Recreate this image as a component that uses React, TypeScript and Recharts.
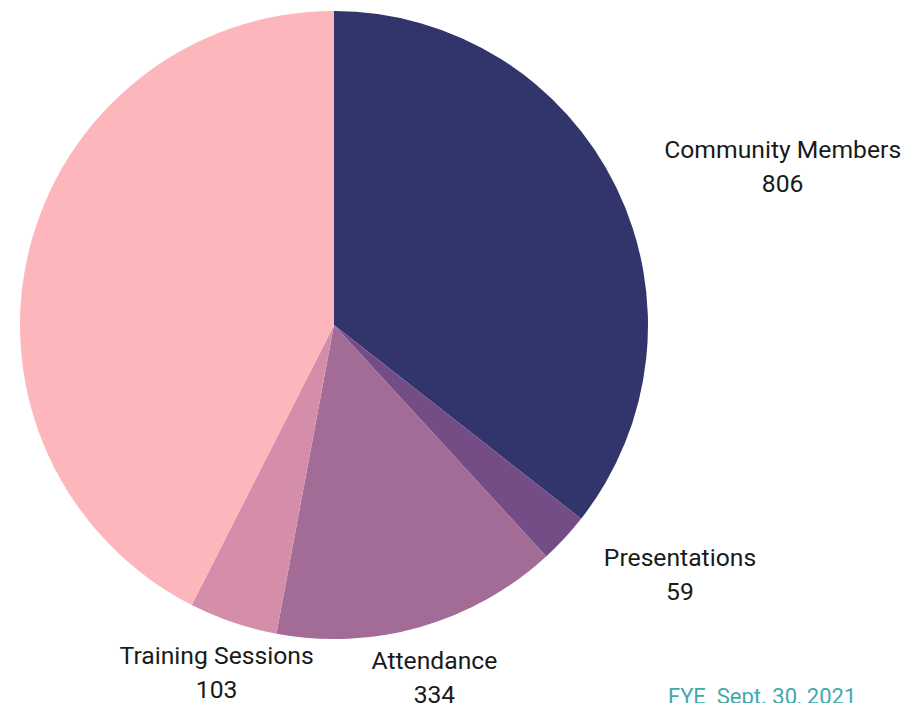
import React from "react";
import { PieChart, Pie, Cell } from "recharts";

const categories = ["Community Members", "Presentations", "Attendance", "Training Sessions", "Other"];
const values = [806, 59, 334, 103, 963];
const showLabel = [true, true, true, true, false];
const colors = ["#31356b", "#744d87", "#a36c97", "#d48ea9", "#feb6bd"];
const footnote = "FYE\u00a0\u00a0Sept. 30, 2021";

const data = categories.map((name, i) => ({ name, value: values[i], show: showLabel[i] }));

const RAD = Math.PI / 180;
const LABEL_FONT = 24.7;

let ctx: CanvasRenderingContext2D | null = null;
const measure = (s: string) => {
  if (typeof document === "undefined") return s.length * LABEL_FONT * 0.55;
  if (!ctx) ctx = document.createElement("canvas").getContext("2d");
  if (!ctx) return s.length * LABEL_FONT * 0.55;
  ctx.font = `${LABEL_FONT}px Roboto`;
  return ctx.measureText(s).width;
};

const renderLabel = (props: any) => {
  const { cx, cy, midAngle, outerRadius, payload, value, index } = props;
  const show = payload?.show ?? showLabel[index];
  if (!show) return null;
  const name = payload?.name ?? categories[index];
  const r = outerRadius + 51;
  const cos = Math.cos(-midAngle * RAD);
  const sin = Math.sin(-midAngle * RAD);
  let x = cx + r * cos;
  const y = cy + r * sin;
  if (cos > 0.5) {
    const w = Math.max(measure(name), measure(String(value)));
    x += w / 2 + 2;
  }
  return (
    <text x={x} y={y} textAnchor="middle" fill="#1a1a1a" fontFamily="Roboto, sans-serif" fontSize={LABEL_FONT}>
      <tspan x={x} dy={-17 + 10}>{name}</tspan>
      <tspan x={x} dy={34}>{value}</tspan>
    </text>
  );
};

export default function App() {
  return (
    <div style={{ position: "absolute", left: 0, top: 0, width: 921, height: 703, overflow: "hidden", background: "#fff" }}>
      <PieChart width={921} height={703} margin={{ top: 0, right: 0, bottom: 0, left: 0 }}>
        <Pie
          data={data}
          dataKey="value"
          nameKey="name"
          cx={334}
          cy={325}
          outerRadius={314}
          startAngle={90}
          endAngle={-270}
          stroke="none"
          label={renderLabel}
          labelLine={false}
          isAnimationActive={false}
        >
          {data.map((d, i) => (
            <Cell key={d.name} fill={colors[i]} />
          ))}
        </Pie>
      </PieChart>
      <svg width={921} height={703} style={{ position: "absolute", left: 0, top: 0, pointerEvents: "none" }}>
        <text x={668} y={704} fill="#3fa9ad" fontFamily="Roboto, sans-serif" fontSize={22}>
          {footnote}
        </text>
      </svg>
    </div>
  );
}
